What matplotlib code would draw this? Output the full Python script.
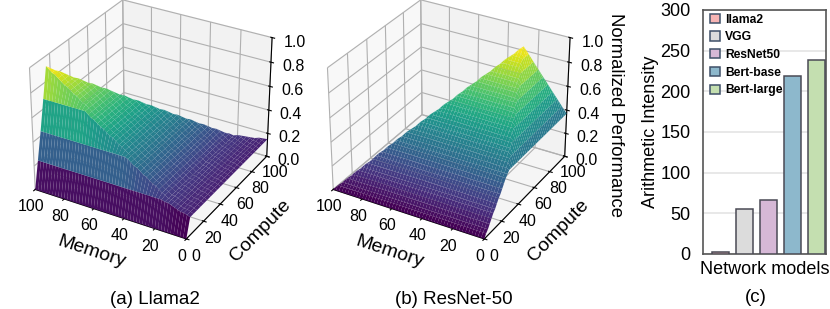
import numpy as np
import matplotlib
matplotlib.use('Agg')
import matplotlib.pyplot as plt

plt.rcParams['font.family'] = ['Liberation Sans', 'DejaVu Sans']

# memory values of the mesh columns
memory = [0, 2, 4, 6, 8, 10, 12, 14, 16, 18, 20, 22, 24, 26, 28, 30, 32, 34, 36, 38, 40, 42, 44, 46, 48, 50,
          52, 54, 56, 58, 60, 62, 64, 66, 68, 70, 72, 74, 76, 78, 80, 82, 84, 86, 88, 90, 92, 94, 96, 98, 100]

# Llama2: performance limited by memory / by compute
llama_compute = [0, 4, 8, 12, 16, 20, 24, 28, 32, 36, 40, 44, 48, 52, 56, 60, 64, 68, 72, 76, 80, 84, 88, 92, 96, 100]
llama_by_compute = [0, .22, .44, .68, .92, 1, 1, 1, 1, 1, 1, 1, 1, 1, 1, 1, 1, 1, 1, 1, 1, 1, 1, 1, 1, 1]
llama_by_memory = [.15, .16, .17, .17, .18, .19, .20, .21, .21, .23, .24, .26, .28, .29, .31, .33, .34, .36, .38, .39,
                   .41, .43, .44, .46, .48, .49, .51, .53, .54, .56, .58, .59, .61, .63, .64, .66, .68, .70, .71, .73,
                   .75, .76, .78, .80, .81, .83, .85, .87, .88, .90, .92]
llama_far_compute = [100, 98.3, 96.6, 95, 93.3, 91.6, 89.9, 88.2, 86.6, 84.9, 83.2, 81.5, 79.8, 78.2, 76.5, 74.8, 73.1,
                     71.4, 69.8, 68.1, 66.4, 64.7, 63, 61.4, 59.7, 58, 56.3, 54.6, 53, 51.3, 49.6, 47.9, 46.2, 44.6,
                     42.9, 41.2, 39.5, 37.8, 36.2, 34.5, 32.8, 31.1, 29.4, 27.8, 26.1, 24.4, 22.7, 21, 19.4, 17.7, 16]

# ResNet-50
resnet_compute = [0, 2, 4, 6, 8, 10, 12, 14, 16, 18, 20, 22, 24, 26, 28, 30, 32, 34, 36, 38, 40, 42, 44, 46, 48, 50,
                  52, 54, 56, 58, 60, 62, 64, 66, 68, 70, 72, 74, 76, 78, 80, 82, 84, 86, 88, 90, 92, 94, 96, 98, 100]
resnet_by_compute = [0, .03, .05, .08, .11, .14, .16, .19, .22, .24, .27, .30, .33, .35, .38, .41, .43, .46, .48, .51,
                     .53, .56, .58, .61, .63, .66, .68, .71, .73, .76, .78, .81, .83, .86, .89, .91, .94, .96, .99, 1,
                     1, 1, 1, 1, 1, 1, 1, 1, 1, 1, 1]
resnet_by_memory = [.37, .44, .51, .58, .65, .72, .79, .86, .93, 1, 1, 1, 1, 1, 1, 1, 1, 1, 1, 1, 1, 1, 1, 1, 1, 1,
                    1, 1, 1, 1, 1, 1, 1, 1, 1, 1, 1, 1, 1, 1, 1, 1, 1, 1, 1, 1, 1, 1, 1, 1, 1]
resnet_far_compute = [100, 97.4, 94.9, 92.3, 89.8, 87.2, 84.7, 82.1, 79.6, 77, 75.1, 73.2, 71.4, 69.5, 67.6, 65.7, 63.9,
                      62, 60.1, 58.2, 56.3, 54.5, 52.6, 50.7, 48.8, 47, 45.1, 43.2, 41.3, 39.4, 37.6, 35.7, 33.8, 31.9,
                      30, 28.2, 26.3, 24.4, 22.5, 20.7, 18.8, 16.9, 15, 13.1, 11.3, 9.4, 7.5, 5.6, 3.8, 1.9, 0]
resnet_far_perf = [.37, .44, .51, .58, .65, .72, .79, .86, .93, 1, .98, .95, .93, .91, .88, .86, .83, .81, .79, .76,
                   .74, .72, .69, .67, .64, .62, .60, .57, .55, .53, .50, .48, .45, .43, .41, .38, .36, .33, .31, .28,
                   .26, .23, .20, .18, .15, .13, .10, .08, .05, .03, 0]

# arithmetic intensity bars
models = ['llama2', 'VGG', 'ResNet50', 'Bert-base', 'Bert-large']
intensity = [2, 55, 66, 219, 239]
bar_colors = ['#e8b4b0', '#dcdcdc', '#d6b8d6', '#8db8cc', '#c4dfb0']
legend_colors = ['#f6b4b4', '#dcdcdc', '#d6b8d6', '#8db8cc', '#c4dfb0']

W, H = 830, 309


def surface_panel(rect, compute, by_compute, by_memory, far_compute, far_perf):
    ax = fig.add_axes(rect, projection='3d')
    ax.set_facecolor('none')
    ax.view_init(elev=30, azim=-60)
    ax.set_box_aspect((4, 4, 3.2))
    m = np.array(memory, dtype=float)
    c = np.array(compute, dtype=float)
    X, Y = np.meshgrid(m, c)
    Z = np.minimum.outer(np.array(by_compute), np.array(by_memory))
    # nodes past the far edge of the surface collapse onto that edge
    far_c = np.array(far_compute)[None, :].repeat(len(c), axis=0)
    far_z = np.array(far_perf)[None, :].repeat(len(c), axis=0)
    Z = np.where(Y > far_c, far_z, Z)
    Y = np.minimum(Y, far_c)
    ax.plot_surface(X, Y, Z, rstride=1, cstride=1, cmap='viridis', linewidth=0)
    ax.set_xlim(100, 0)
    ax.set_ylim(0, 100)
    ax.set_zlim(0, 1)
    ax.set_xticks([0, 20, 40, 60, 80, 100])
    ax.set_yticks([0, 20, 40, 60, 80, 100])
    ax.set_zticks([0, .2, .4, .6, .8, 1.0])
    ax.tick_params(axis='x', labelsize=11.5, pad=-3)
    ax.tick_params(axis='y', labelsize=11.5, pad=-2)
    ax.tick_params(axis='z', labelsize=11.5, pad=2)
    ax.set_xlabel('Memory', fontsize=14, labelpad=-2)
    ax.set_ylabel('Compute', fontsize=14, labelpad=1)
    return ax


fig = plt.figure(figsize=(W / 100, H / 100), dpi=100)

surface_panel([0.005, 0.177, 0.35, 0.885], llama_compute, llama_by_compute, llama_by_memory,
              llama_far_compute, llama_by_memory)
surface_panel([0.364, 0.177, 0.35, 0.885], resnet_compute, resnet_by_compute, resnet_by_memory,
              resnet_far_compute, resnet_far_perf)

fig.text(155 / W, 1 - 300 / H, '(a) Llama2', fontsize=13.5, ha='center', va='center')
fig.text(454 / W, 1 - 300 / H, '(b) ResNet-50', fontsize=13.5, ha='center', va='center')
fig.text(615 / W, 1 - 115 / H, 'Normalized Performance', fontsize=13.3, rotation=270, ha='center', va='center')

# bar panel
ax = fig.add_axes([703 / W, 1 - 254 / H, 123 / W, 244 / H])
ax.bar(range(len(models)), intensity, width=0.72, color=bar_colors, edgecolor='#4a4a55', linewidth=1.1, zorder=3)
ax.set_xlim(-0.73, 4.4)
ax.set_ylim(0, 300)
ax.set_xticks([])
ax.set_yticks([0, 50, 100, 150, 200, 250, 300])
ax.tick_params(axis='y', labelsize=13, length=0, pad=9)
ax.grid(axis='y', color='#e4e4e4', linewidth=1.2, zorder=0)
for s in ax.spines.values():
    s.set_color('#555555')
    s.set_linewidth(1.2)
ax.set_ylabel('Arithmetic Intensity', fontsize=13, labelpad=1)
ax.set_xlabel('Network models', fontsize=13, labelpad=5)
handles = [plt.Rectangle((0, 0), 1, 1, facecolor=col, edgecolor='#3f5068', linewidth=1.1) for col in legend_colors]
ax.legend(handles, models, loc='upper left', frameon=False, prop={'weight': 'bold', 'size': 8.7},
          borderaxespad=0, bbox_to_anchor=(0.04, 0.995), handlelength=0.8, handleheight=0.8, handletextpad=0.4,
          labelspacing=0.47, borderpad=0.2)
fig.text(756 / W, 1 - 297 / H, '(c)', fontsize=13.5, ha='center', va='center')

fig.savefig('out.png', dpi=100)
